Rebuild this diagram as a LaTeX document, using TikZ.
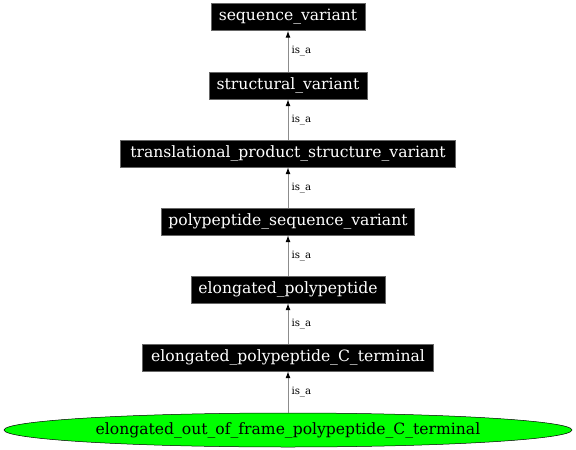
\documentclass[tikz,border=0pt]{standalone}
\usepackage{fontspec}
\setmainfont{DejaVu Serif}
\usetikzlibrary{shapes.geometric,arrows.meta}
\begin{document}
\begin{tikzpicture}[x=1pt,y=-1pt,
  term/.style={fill=black,text=white,draw=black!60,line width=0.4pt,inner xsep=5pt,minimum height=27pt,font=\fontsize{15.6}{17}\selectfont},
  leaf/.style={ellipse,fill=green,draw=black,line width=0.5pt,minimum width=568pt,minimum height=34pt,inner sep=0pt,font=\fontsize{15.6}{17}\selectfont},
  isa/.style={draw=black!45,line width=1pt,-{Latex[length=7pt,width=5pt,black]}},
  lbl/.style={font=\fontsize{10.2}{11}\selectfont,anchor=west,inner sep=0pt}]
\useasboundingbox (0,0) rectangle (576,450);
\node[term,minimum width=154pt] (n1) at (288,17) {sequence\_variant};
\node[term,minimum width=158pt] (n2) at (288,85.5) {structural\_variant};
\node[term,minimum width=335pt] (n3) at (288,153.5) {translational\_product\_structure\_variant};
\node[term,minimum width=253pt] (n4) at (288,221.5) {polypeptide\_sequence\_variant};
\node[term,minimum width=194pt] (n5) at (288,289.5) {elongated\_polypeptide};
\node[term,minimum width=291pt] (n6) at (288,357.5) {elongated\_polypeptide\_C\_terminal};
\node[leaf] (n7) at (288,430) {elongated\_out\_of\_frame\_polypeptide\_C\_terminal};
\draw[isa] (n2) -- node[lbl,pos=0.5,xshift=3pt]{is\_a} (n1);
\draw[isa] (n3) -- node[lbl,pos=0.5,xshift=3pt]{is\_a} (n2);
\draw[isa] (n4) -- node[lbl,pos=0.5,xshift=3pt]{is\_a} (n3);
\draw[isa] (n5) -- node[lbl,pos=0.5,xshift=3pt]{is\_a} (n4);
\draw[isa] (n6) -- node[lbl,pos=0.5,xshift=3pt]{is\_a} (n5);
\draw[isa] (n7) -- node[lbl,pos=0.5,xshift=3pt]{is\_a} (n6);
\end{tikzpicture}
\end{document}
